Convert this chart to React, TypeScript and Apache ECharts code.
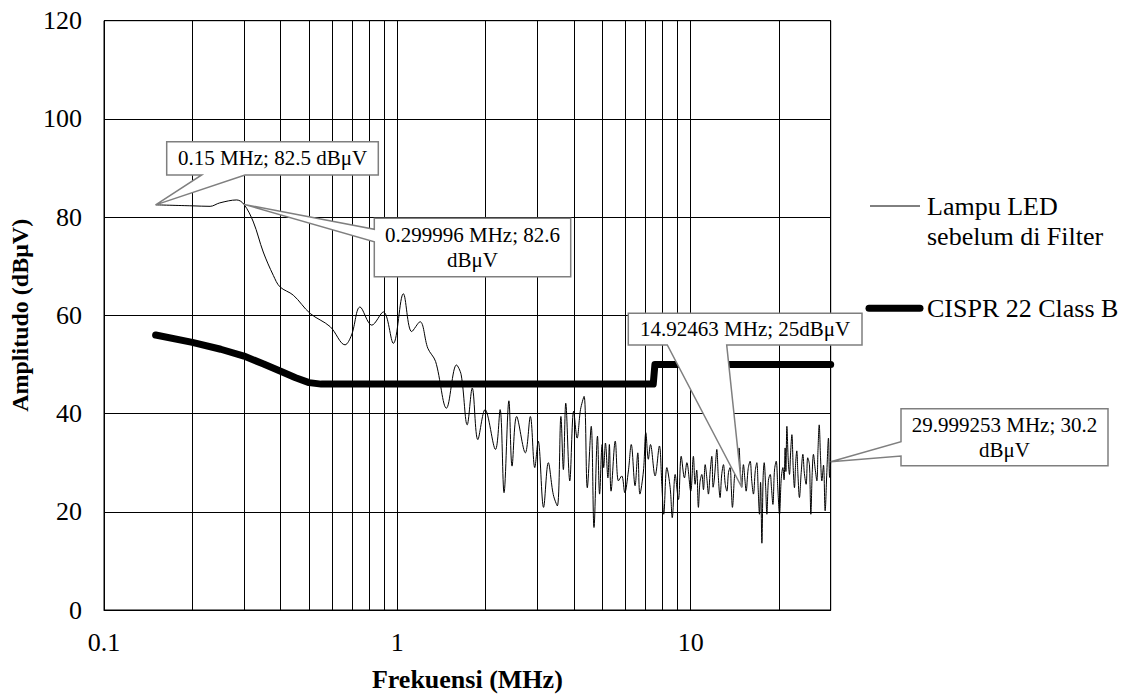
import React, { useEffect, useRef } from 'react';
import * as echarts from 'echarts';

// LED spectrum (MHz, dBµV)
const ledFreq = [
  0.15, 0.2, 0.23, 0.248, 0.2835, 0.299996, 0.323, 0.349, 0.378, 0.398, 0.442, 0.504, 0.59, 0.663, 0.698, 0.746,
  0.818, 0.896, 0.969, 1.048, 1.119, 1.195, 1.27, 1.35, 1.47, 1.59, 1.65, 1.73, 1.8, 1.88, 1.99, 2.16, 2.24, 2.31,
  2.4, 2.46, 2.55, 2.73, 2.84, 2.94, 3.02, 3.15, 3.27, 3.4, 3.51, 3.61, 3.68, 3.75, 3.87, 3.99, 4.1, 4.21, 4.33,
  4.44, 4.58, 4.68, 4.81, 4.89, 4.99, 5.05, 5.12, 5.22, 5.28, 5.35, 5.53, 5.67, 5.82, 5.96, 6.13, 6.27, 6.46, 6.6,
  6.71, 6.9, 7.03, 7.17, 7.29, 7.56, 7.82, 7.97, 8.09, 8.29, 8.51, 8.65, 8.85, 9.08, 9.28, 9.52, 9.7, 10.0,
  10.21, 10.35, 10.48, 10.62, 10.75, 10.91, 11.05, 11.2, 11.35, 11.49, 11.65, 11.8, 11.92, 12.02, 12.15, 12.27,
  12.42, 12.59, 12.75, 12.93, 13.1, 13.28, 13.45, 13.62, 13.75, 13.87, 14.1, 14.36, 14.5, 14.62, 14.75, 14.92463,
  15.02, 15.12, 15.3, 15.45, 15.7, 15.94, 16.15, 16.36, 16.6, 16.8, 16.98, 17.15, 17.3, 17.48, 17.65, 17.8, 18.0,
  18.18, 18.4, 18.66, 18.85, 19.06, 19.3, 19.56, 19.8, 20.07, 20.35, 20.61, 20.8, 20.98, 21.1, 21.27, 21.5, 21.71,
  21.9, 22.12, 22.35, 22.57, 22.8, 22.99, 23.2, 23.47, 23.8, 24.11, 24.4, 24.74, 25.05, 25.39, 25.5, 25.67, 25.95,
  26.2, 26.55, 26.91, 27.15, 27.41, 27.7, 27.99, 28.35, 28.72, 29.1, 29.48, 29.75, 29.999253,
];
const ledLevel = [
  82.5, 82.3, 82.2, 82.9, 83.5, 82.6, 79.0, 72.9, 68.1, 65.8, 64.1, 60.4, 57.7, 54.0, 56.0, 61.7,
  58.0, 60.7, 54.3, 64.4, 56.7, 58.7, 53.3, 50.6, 41.1, 49.9, 47.9, 37.7, 45.2, 34.7, 40.8, 32.7, 40.8, 23.9,
  42.6, 29.3, 39.4, 32.0, 39.4, 29.0, 34.4, 20.9, 30.0, 23.5, 21.2, 39.4, 28.6, 42.1, 26.3, 40.5, 35.0, 40.8, 43.5,
  24.9, 37.4, 16.8, 35.4, 23.6, 33.7, 29.0, 34.0, 26.9, 33.7, 24.2, 34.4, 26.3, 27.3, 23.9, 28.3, 33.7, 25.3, 32.0,
  23.6, 28.3, 36.1, 30.7, 33.7, 27.3, 33.4, 25.6, 19.5, 29.0, 24.9, 18.8, 27.6, 22.5, 31.3, 26.9, 30.0, 24.2,
  31.3, 25.6, 28.5, 20.9, 26.0, 27.6, 24.5, 29.6, 26.8, 23.6, 28.2, 31.3, 25.0, 26.3, 29.8, 32.7,
  27.0, 22.9, 27.5, 29.6, 25.8, 24.2, 28.0, 29.0, 24.8, 20.9, 27.2, 32.0, 28.0, 33.0, 28.6, 25.0,
  27.8, 29.6, 26.5, 24.2, 28.8, 30.3, 26.2, 23.6, 28.4, 30.0, 24.6, 19.5, 26.0, 13.6, 27.0, 30.0, 25.2,
  19.5, 26.4, 27.6, 24.8, 21.5, 28.5, 30.3, 25.0, 19.5, 26.8, 29.0, 26.5, 33.0, 28.2, 37.4, 30.5, 27.6,
  32.0, 35.7, 29.0, 24.9, 30.2, 32.4, 27.5, 22.9, 28.0, 31.7, 27.8, 25.6, 31.0, 29.6, 26.0, 19.5, 28.0,
  31.7, 28.8, 26.3, 32.5, 37.7, 31.0, 26.3, 29.5, 20.2, 28.0, 35.0, 27.0, 30.2,
];

// CISPR 22 Class B limit
const cisprFreq = [0.15, 0.2, 0.25, 0.3, 0.35, 0.4, 0.45, 0.5, 0.55, 1, 2, 5, 7.45, 7.55, 10, 20, 30];
const cisprLevel = [56, 54.5, 53.1, 51.7, 50.1, 48.6, 47.3, 46.3, 46, 46, 46, 46, 46, 50, 50, 50, 50];

// vertical grid lines between decades
const minorGridFreq = [0.2, 0.3, 0.4, 0.5, 0.6, 0.7, 0.8, 0.9, 2, 3, 4, 5, 6, 7, 8, 9, 20];

// callout annotations
const calloutPoints = [
  { f: 0.15, v: 82.5, text: '0.15 MHz; 82.5 dBμV' },
  { f: 0.299996, v: 82.6, text: '0.299996 MHz; 82.6\ndBμV' },
  { f: 14.92463, v: 25, text: '14.92463 MHz; 25dBμV' },
  { f: 29.999253, v: 30.2, text: '29.999253 MHz; 30.2\ndBμV' },
];

// callout box layout (pixels)
const calloutBoxes = [
  { x: 166.7, y: 141.7, w: 211.6, h: 33.3, side: 'bottom', a: 201.7, b: 245 },
  { x: 374.3, y: 218.3, w: 196.4, h: 58.4, side: 'left', a: 229.3, b: 241.7 },
  { x: 628.3, y: 313.3, w: 233.7, h: 31.7, side: 'bottom', a: 667.3, b: 726.7 },
  { x: 901, y: 408.7, w: 207, h: 57, side: 'left', a: 441.7, b: 456 },
];

const FONT = 'Liberation Serif';

export default function App() {
  const ref = useRef<HTMLDivElement>(null);

  useEffect(() => {
    if (!ref.current) return;
    const chart = echarts.init(ref.current, null, { renderer: 'svg' });
    const option: any = {
      animation: false,
      backgroundColor: '#fff',
      textStyle: { fontFamily: FONT },
      grid: {
        left: 104,
        right: 300.3,
        top: 20.7,
        bottom: 84,
        show: true,
        borderColor: '#000',
        borderWidth: 1,
        backgroundColor: 'transparent',
      },
      xAxis: {
        type: 'log',
        logBase: 10,
        min: 0.1,
        max: 30,
        name: 'Frekuensi (MHz)',
        nameLocation: 'middle',
        nameGap: 56,
        nameTextStyle: { fontFamily: FONT, fontSize: 26, fontWeight: 'bold', color: '#000' },
        axisLine: { show: true, lineStyle: { color: '#000', width: 1 } },
        axisTick: { show: false },
        axisLabel: {
          fontFamily: FONT,
          fontSize: 26,
          color: '#000',
          margin: 19,
          showMaxLabel: true,
          formatter: (v: number) => {
            const l = Math.log10(v);
            return Math.abs(l - Math.round(l)) < 1e-6 ? String(+v.toPrecision(3)) : '';
          },
        },
        splitLine: { show: true, lineStyle: { color: '#000', width: 1 } },
      },
      yAxis: {
        type: 'value',
        min: 0,
        max: 120,
        interval: 20,
        name: 'Amplitudo (dBμV)',
        nameLocation: 'middle',
        nameGap: 68,
        nameTextStyle: { fontFamily: FONT, fontSize: 24, fontWeight: 'bold', color: '#000' },
        axisLine: { show: true, lineStyle: { color: '#000', width: 1 } },
        axisTick: { show: false },
        axisLabel: { fontFamily: FONT, fontSize: 26, color: '#000', margin: 22 },
        splitLine: { show: true, lineStyle: { color: '#000', width: 1 } },
      },
      series: [
        {
          name: 'CISPR 22 Class B',
          type: 'line',
          data: cisprFreq.map((f, i) => [f, cisprLevel[i]]),
          showSymbol: false,
          symbol: 'none',
          z: 3,
          lineStyle: { color: '#000', width: 7, cap: 'round', join: 'round' },
          markLine: {
            silent: true,
            z: 1,
            symbol: ['none', 'none'],
            label: { show: false },
            lineStyle: { color: '#000', width: 1, type: 'solid' },
            emphasis: { disabled: true },
            data: minorGridFreq.map((f) => ({ xAxis: f })),
          },
        },
        {
          name: 'Lampu LED sebelum di Filter',
          type: 'line',
          data: ledFreq.map((f, i) => [f, ledLevel[i]]),
          showSymbol: false,
          symbol: 'none',
          smooth: 0.35,
          z: 4,
          lineStyle: { color: '#000', width: 1 },
        },
      ],
    };
    chart.setOption(option);

    const graphics: any[] = [];
    calloutPoints.forEach((c, i) => {
      const box = calloutBoxes[i];
      const [tx, ty] = chart.convertToPixel({ gridIndex: 0 }, [c.f, c.v]) as number[];
      const { x, y, w, h, a, b } = box;
      const pts =
        box.side === 'bottom'
          ? [[x, y], [x + w, y], [x + w, y + h], [b, y + h], [tx, ty], [a, y + h], [x, y + h]]
          : [[x, y], [x + w, y], [x + w, y + h], [x, y + h], [x, b], [tx, ty], [x, a]];
      graphics.push({
        type: 'polygon',
        z: 10,
        shape: { points: pts },
        style: { fill: '#fff', stroke: '#7f7f7f', lineWidth: 1.5 },
        silent: true,
      });
      graphics.push({
        type: 'text',
        z: 11,
        x: x + w / 2,
        y: y + h / 2,
        style: {
          text: c.text,
          fontFamily: FONT,
          fontSize: 21,
          fill: '#000',
          align: 'center',
          verticalAlign: 'middle',
          lineHeight: 25,
        },
        silent: true,
      });
    });

    // legend
    graphics.push({
      type: 'line',
      z: 10,
      shape: { x1: 870, y1: 206, x2: 920, y2: 206 },
      style: { stroke: '#000', lineWidth: 1 },
    });
    graphics.push({
      type: 'text',
      z: 10,
      x: 927,
      y: 221,
      style: {
        text: 'Lampu LED\nsebelum di Filter',
        fontFamily: FONT,
        fontSize: 26,
        fill: '#000',
        align: 'left',
        verticalAlign: 'middle',
        lineHeight: 30,
      },
    });
    graphics.push({
      type: 'line',
      z: 10,
      shape: { x1: 869, y1: 308.3, x2: 920, y2: 308.3 },
      style: { stroke: '#000', lineWidth: 7, lineCap: 'round' },
    });
    graphics.push({
      type: 'text',
      z: 10,
      x: 927,
      y: 308.3,
      style: {
        text: 'CISPR 22 Class B',
        fontFamily: FONT,
        fontSize: 26,
        fill: '#000',
        align: 'left',
        verticalAlign: 'middle',
      },
    });

    chart.setOption({ graphic: graphics });

    return () => chart.dispose();
  }, []);

  return (
    <div
      ref={ref}
      style={{ position: 'absolute', left: 0, top: 0, width: 1131, height: 697, background: '#fff' }}
    />
  );
}
